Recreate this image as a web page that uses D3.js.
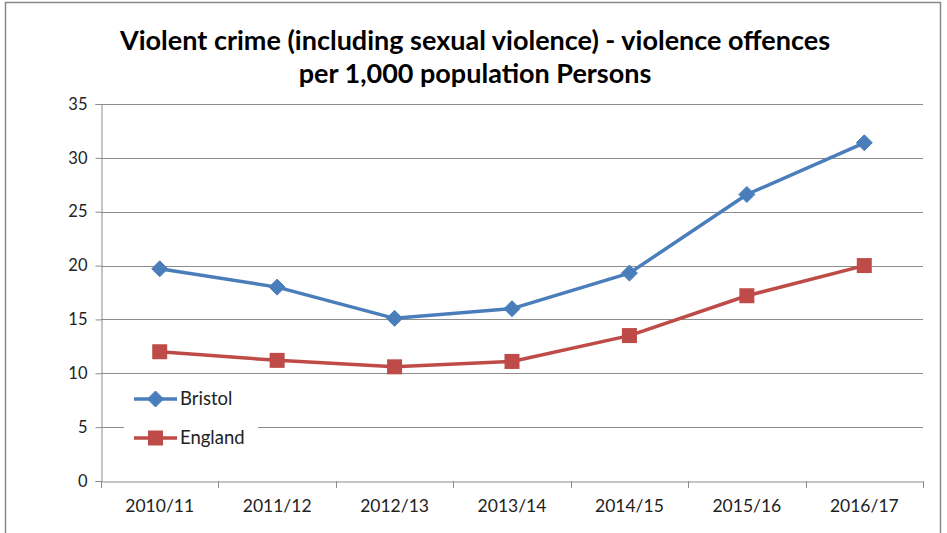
<!DOCTYPE html>
<html><head><meta charset="utf-8">
<script src="https://cdn.jsdelivr.net/npm/d3@7"></script>
<style>body{margin:0;background:#fff}svg{display:block}</style>
</head><body><svg id="c" width="947" height="533"></svg>
<script>
const categories = ["2010/11","2011/12","2012/13","2013/14","2014/15","2015/16","2016/17"];
const bristol = [19.7, 18.0, 15.1, 16.0, 19.3, 26.6, 31.4];
const england = [12.0, 11.2, 10.6, 11.1, 13.5, 17.2, 20.0];
const yTicks = [0,5,10,15,20,25,30,35];
const titleLines = ["Violent crime (including sexual violence) - violence offences","per 1,000 population Persons"];

const svg = d3.select("#c");
const font = "Lato, 'Open Sans', sans-serif";
svg.append("rect").attr("x",5.5).attr("y",2.5).attr("width",935).attr("height",540)
  .attr("fill","#fff").attr("stroke","#888").attr("stroke-width",1.5);

const x = d3.scaleBand().domain(categories).range([101,923]);
const y = d3.scaleLinear().domain([0,35]).range([481,104]);

// gridlines
svg.append("g").selectAll("line").data(yTicks.filter(d=>d>0)).join("line")
  .attr("x1",101).attr("x2",923).attr("y1",d=>Math.round(y(d))+0.5).attr("y2",d=>Math.round(y(d))+0.5)
  .attr("stroke","#8c8c8c").attr("stroke-width",1);

// y axis
const ya = svg.append("g").attr("transform","translate(101.5,0)")
  .call(d3.axisLeft(y).tickValues(yTicks).tickSize(6).tickPadding(8));
ya.select(".domain").attr("stroke","#8c8c8c");
ya.selectAll(".tick line").attr("stroke","#8c8c8c");
ya.selectAll(".tick text").attr("font-family",font).attr("font-size",16.5).attr("fill","#222");

// x axis
const xa = svg.append("g").attr("transform","translate(0,481.5)")
  .call(d3.axisBottom(x).tickSize(0).tickPadding(18));
xa.select(".domain").attr("stroke","#8c8c8c");
xa.selectAll(".tick text").attr("font-family",font).attr("font-size",17.5).attr("fill","#222");
const bounds = categories.map(c=>x(c)).concat([x.range()[1]]);
svg.append("g").selectAll("line").data(bounds).join("line")
  .attr("x1",d=>Math.round(d)+0.5).attr("x2",d=>Math.round(d)+0.5).attr("y1",481).attr("y2",488)
  .attr("stroke","#8c8c8c");

const cx = c => x(c) + x.bandwidth()/2;
const line = d3.line().x((d,i)=>cx(categories[i])).y(d=>y(d));

const series = [
  {name:"Bristol", values:bristol, color:"#4A7EBB", marker:"diamond"},
  {name:"England", values:england, color:"#BE4B48", marker:"square"}
];

// legend box (covers gridline)
svg.append("rect").attr("x",124).attr("y",378).attr("width",134).attr("height",72).attr("fill","#fff");

function drawMarker(g, type, px, py, color){
  if(type==="diamond"){
    g.append("path").attr("d",`M${px},${py-8}L${px+8},${py}L${px},${py+8}L${px-8},${py}Z`).attr("fill",color).attr("stroke",color).attr("stroke-width",1);
  } else {
    g.append("rect").attr("x",px-7.5).attr("y",py-7.5).attr("width",15).attr("height",15).attr("fill",color);
  }
}

series.forEach(s=>{
  svg.append("path").datum(s.values).attr("d",line).attr("fill","none")
    .attr("stroke",s.color).attr("stroke-width",3.5).attr("stroke-linejoin","round");
  const g = svg.append("g");
  s.values.forEach((v,i)=>drawMarker(g, s.marker, cx(categories[i]), y(v), s.color));
});

// legend
series.forEach((s,i)=>{
  const ly = 399 + i*39;
  svg.append("line").attr("x1",134).attr("x2",177).attr("y1",ly).attr("y2",ly).attr("stroke",s.color).attr("stroke-width",3.5);
  drawMarker(svg, s.marker, 155.5, ly, s.color);
  svg.append("text").attr("x",180).attr("y",ly+6).text(s.name).attr("font-family",font).attr("font-size",18.5).attr("fill","#222");
});

// title
svg.append("g").selectAll("text").data(titleLines).join("text")
  .attr("x",475).attr("y",(d,i)=>50+i*33).attr("text-anchor","middle")
  .attr("font-family",font).attr("font-weight","bold").attr("font-size",27).attr("fill","#000").text(d=>d);
</script></body></html>
